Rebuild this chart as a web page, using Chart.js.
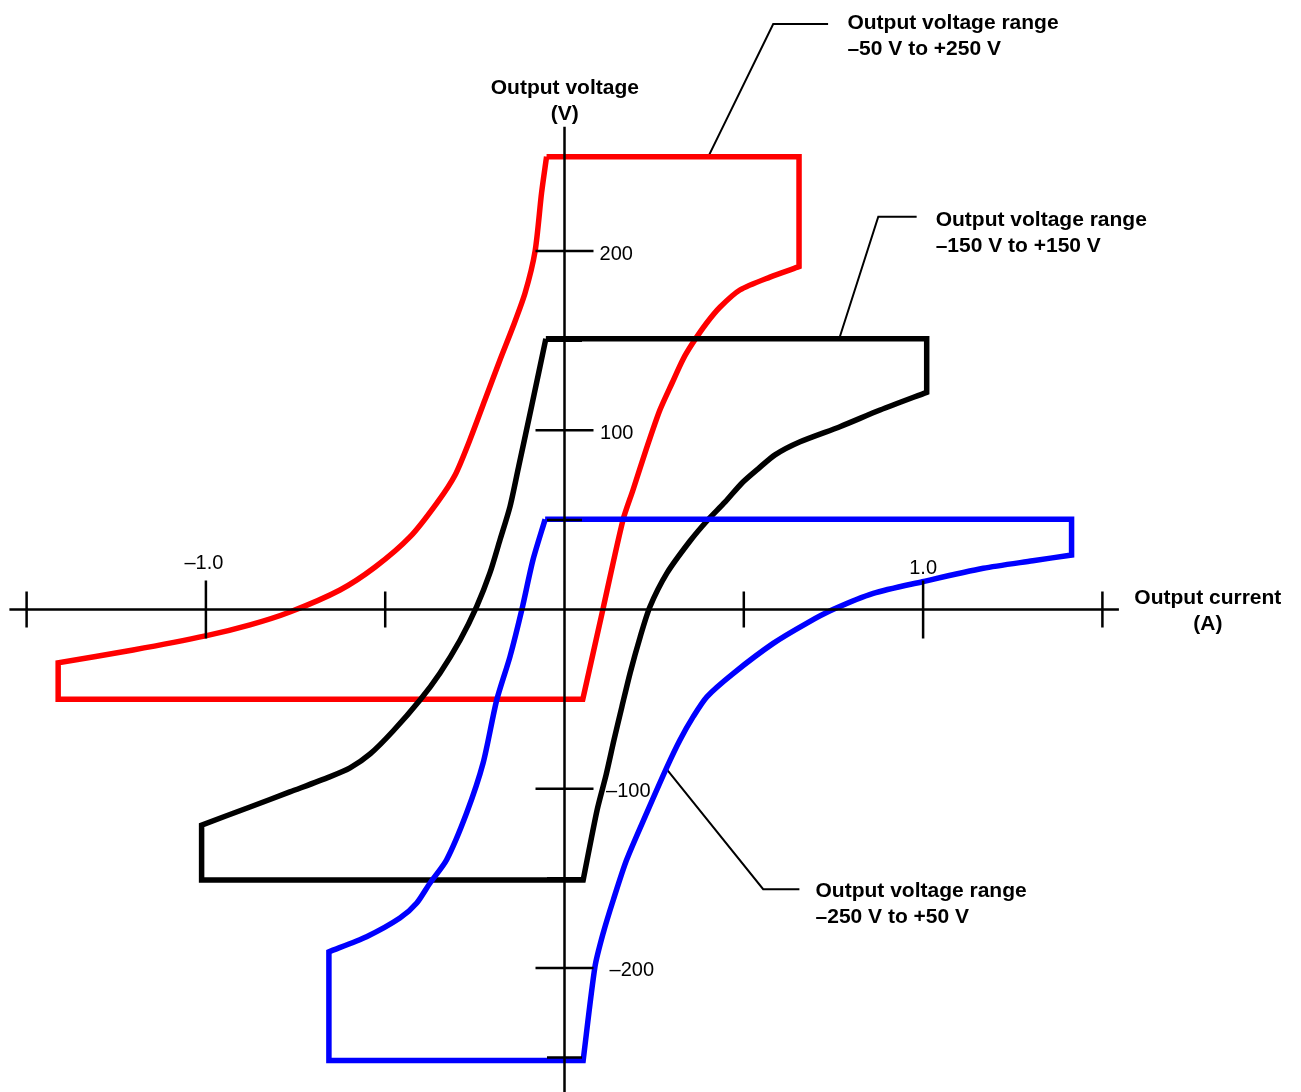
<!DOCTYPE html>
<html>
<head>
<meta charset="utf-8">
<script src="https://cdn.jsdelivr.net/npm/chart.js@4.4.1/dist/chart.umd.min.js"></script>
<style>
  html, body { margin: 0; padding: 0; background: #fff; }
  #wrap { width: 1301px; height: 1092px; }
</style>
</head>
<body>
<div id="wrap"><canvas id="quadChart"></canvas></div>
<script>
// operating envelopes: output current (A) vs output voltage (V)
const redCurrent = [-0.05, 0.654, 0.654, 0.573, 0.489, 0.434, 0.397, 0.358, 0.330, 0.300, 0.266, 0.230, 0.191, 0.163, 0.107, 0.051, -1.412, -1.412, -1.203, -0.998, -0.877, -0.766, -0.626, -0.528, -0.431, -0.356, -0.305, -0.264, -0.222, -0.180, -0.144, -0.110, -0.082, -0.064, -0.05];
const redVoltage = [252.7, 252.7, 191.3, 185.5, 178.3, 168.8, 160.0, 148.8, 139.4, 126.4, 111.3, 90.7, 66.7, 49.9, 0, -50.1, -50.1, -29.7, -22.6, -14.6, -8.6, -1.4, 10.9, 23.7, 40.5, 59.4, 75.1, 94.6, 116.9, 139.2, 157.6, 176.6, 200.0, 232.4, 252.7];
const redCorners = [0, 1, 2, 15, 16, 17, 34];

const blackCurrent = [-0.052, 1.010, 1.010, 0.880, 0.768, 0.657, 0.587, 0.540, 0.495, 0.448, 0.397, 0.350, 0.286, 0.238, 0.211, 0.183, 0.160, 0.138, 0.116, 0.091, 0.052, -1.012, -1.012, -0.877, -0.766, -0.655, -0.598, -0.542, -0.478, -0.403, -0.347, -0.291, -0.245, -0.208, -0.180, -0.152, -0.127, -0.091, -0.052];
const blackVoltage = [151.1, 151.1, 121.2, 111.3, 102.0, 93.6, 86.3, 78.5, 70.6, 60.0, 49.4, 38.2, 20.4, 1.4, -15.3, -35.4, -54.3, -72.8, -92.3, -111.8, -151, -151, -120.3, -110.2, -101.8, -93.4, -88.4, -80.6, -67.8, -50.5, -35.4, -17.0, 1.6, 20.4, 38.8, 57.4, 80.6, 114.1, 151.1];
const blackCorners = [0, 1, 2, 20, 21, 22, 38];

const blueCurrent = [-0.054, 1.414, 1.414, 1.306, 1.168, 0.998, 0.861, 0.750, 0.675, 0.582, 0.471, 0.397, 0.359, 0.322, 0.285, 0.229, 0.173, 0.136, 0.108, 0.085, 0.052, -0.657, -0.657, -0.552, -0.459, -0.412, -0.375, -0.329, -0.273, -0.227, -0.189, -0.152, -0.119, -0.088, -0.054];
const blueVoltage = [50.3, 50.3, 30.4, 27.2, 23.0, 15.5, 9.0, 0.1, -7.7, -18.9, -35.6, -48.7, -59.8, -72.8, -88.2, -113.6, -139.8, -162.1, -180.5, -199.3, -251.7, -251.7, -191.0, -182.6, -172.2, -163.8, -152.6, -139.8, -113.6, -85.7, -50.5, -26.3, -0.1, 27.6, 50.3];
const blueCorners = [0, 1, 2, 20, 21, 22, 34];

const rangeLabels = ['–50 V to +250 V', '–150 V to +150 V', '–250 V to +50 V'];

// tick marks on the two axes
const currentTicks = [-1.5, -1.0, -0.5, 0.5, 1.0, 1.5];
const currentTickLabels = { '-1': '–1.0', '1': '1.0' };
const voltageTicks = [200, 150, 100, 50, -100, -150, -200, -250];
const voltageTickLabels = { '200': '200', '100': '100', '-100': '–100', '-200': '–200' };

// corners are repeated so the smoothing keeps them sharp
function outline(xs, ys, corners) {
  const pts = [];
  xs.forEach((v, i) => {
    pts.push({ x: v, y: ys[i] });
    if (corners.includes(i)) pts.push({ x: v, y: ys[i] });
  });
  return pts;
}

function zip(xs, ys) {
  return xs.map((v, i) => ({ x: v, y: ys[i] }));
}

const FONT = '"Liberation Sans", Arial, sans-serif';

// leader lines from each range label to its curve (A, V)
const leaders = [
  { x: [0.735, 0.582, 0.401], y: [326.7, 326.7, 252.7] },
  { x: [0.982, 0.875, 0.766], y: [219.2, 219.2, 151.1] },
  { x: [0.655, 0.554, 0.283], y: [-156.1, -156.1, -88.6] }
];

const crossAxes = {
  id: 'crossAxes',
  afterDatasetsDraw(chart) {
    const { ctx } = chart;
    const xs = chart.scales.x, ys = chart.scales.y;
    const px = v => xs.getPixelForValue(v);
    const py = v => ys.getPixelForValue(v);
    const x0 = px(0), y0 = py(0);

    ctx.save();
    ctx.strokeStyle = '#000';
    ctx.lineWidth = 2.5;
    ctx.beginPath();
    ctx.moveTo(px(-1.548), y0);
    ctx.lineTo(px(1.546), y0);
    ctx.moveTo(x0, py(269.4));
    ctx.lineTo(x0, py(-275));
    currentTicks.forEach(v => {
      const len = currentTickLabels[String(v)] ? 29 : 18;
      ctx.moveTo(px(v), y0 - len);
      ctx.lineTo(px(v), y0 + len);
    });
    voltageTicks.forEach(v => {
      const len = voltageTickLabels[String(v)] ? 29 : 17.5;
      ctx.moveTo(x0 - len, py(v));
      ctx.lineTo(x0 + len, py(v));
    });
    ctx.stroke();

    // tick labels
    ctx.fillStyle = '#000';
    ctx.font = '20px ' + FONT;
    ctx.textAlign = 'left';
    ctx.textBaseline = 'alphabetic';
    ctx.fillText(voltageTickLabels['200'], x0 + 35, py(200) + 8.5);
    ctx.fillText(voltageTickLabels['100'], x0 + 35.5, py(100) + 8.5);
    ctx.fillText(voltageTickLabels['-100'], x0 + 41.5, py(-100) + 8.5);
    ctx.fillText(voltageTickLabels['-200'], x0 + 45, py(-200) + 8.5);
    ctx.textAlign = 'center';
    ctx.fillText(currentTickLabels['-1'], px(-1.0) - 2, y0 - 41);
    ctx.fillText(currentTickLabels['1'], px(1.0), y0 - 36);

    // axis titles
    ctx.font = 'bold 21px ' + FONT;
    ctx.fillText('Output voltage', px(0.001), py(287.9));
    ctx.fillText('(V)', px(0.001), py(273.2));
    ctx.fillText('Output current', px(1.794), py(3.07));
    ctx.fillText('(A)', px(1.794), py(-11.4));

    // range labels
    ctx.textAlign = 'left';
    const spots = [
      { x: 0.789, y1: 324.2, y2: 309.4 },
      { x: 1.035, y1: 214.0, y2: 199.5 },
      { x: 0.700, y1: -160.4, y2: -175.2 }
    ];
    spots.forEach((s, i) => {
      ctx.fillText('Output voltage range', px(s.x), py(s.y1));
      ctx.fillText(rangeLabels[i], px(s.x), py(s.y2));
    });
    ctx.restore();
  }
};

const curveStyle = { showLine: true, pointRadius: 0, borderWidth: 5.5, tension: 0.25, fill: false, borderJoinStyle: 'miter' };
const leaderStyle = { showLine: true, pointRadius: 0, borderWidth: 2, tension: 0, fill: false, borderColor: '#000' };

const ctx = document.getElementById('quadChart').getContext('2d');
new Chart(ctx, {
  type: 'scatter',
  data: {
    datasets: [
      { ...curveStyle, label: rangeLabels[2], data: outline(blueCurrent, blueVoltage, blueCorners), borderColor: '#0000ff' },
      { ...curveStyle, label: rangeLabels[1], data: outline(blackCurrent, blackVoltage, blackCorners), borderColor: '#000000' },
      { ...curveStyle, label: rangeLabels[0], data: outline(redCurrent, redVoltage, redCorners), borderColor: '#ff0000' },
      { ...leaderStyle, data: zip(leaders[0].x, leaders[0].y) },
      { ...leaderStyle, data: zip(leaders[1].x, leaders[1].y) },
      { ...leaderStyle, data: zip(leaders[2].x, leaders[2].y) }
    ]
  },
  options: {
    responsive: true,
    maintainAspectRatio: false,
    animation: false,
    devicePixelRatio: 1,
    layout: { padding: 0 },
    plugins: { legend: { display: false }, tooltip: { enabled: false } },
    scales: {
      x: { type: 'linear', display: false, min: -1.5742, max: 2.0538 },
      y: { type: 'linear', display: false, min: -269.25, max: 340.12 }
    }
  },
  plugins: [crossAxes]
});
</script>
</body>
</html>
